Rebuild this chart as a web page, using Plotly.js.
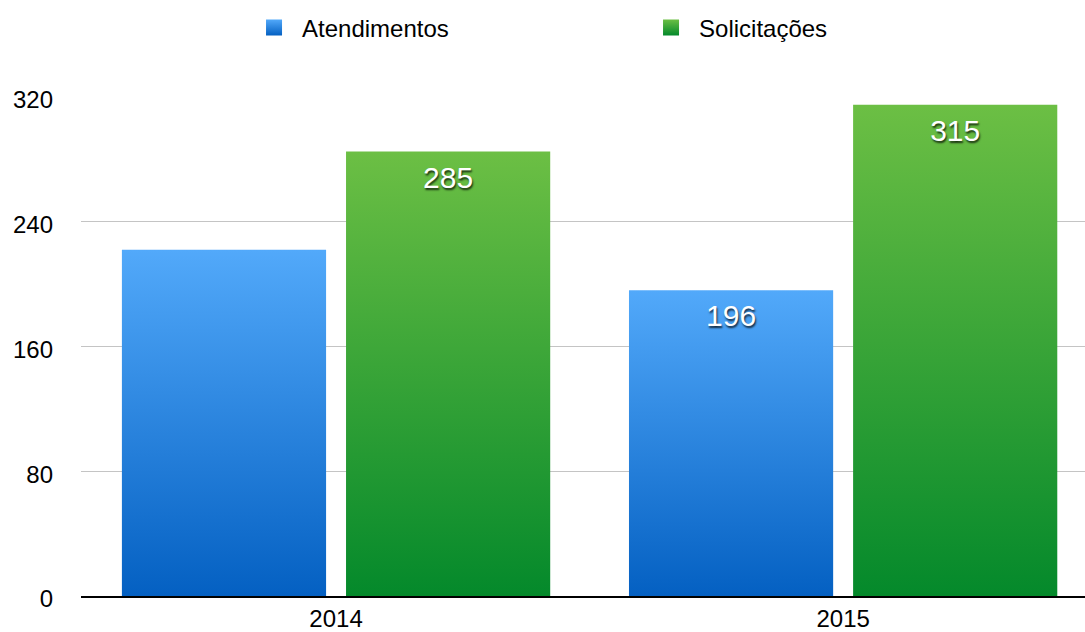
<!DOCTYPE html>
<html>
<head>
<meta charset="utf-8">
<script src="https://cdn.plot.ly/plotly-3.0.1.min.js"></script>
<style>
  html, body { margin: 0; padding: 0; background: #fff; }
  #chart { width: 1085px; height: 632px; }
</style>
</head>
<body>
<div id="chart"></div>
<script>
const years = ['2014', '2015'];
const atendimentos = [222, 196];
const solicitacoes = [285, 315];
const atendLabels = ['', '196'];
const solicLabels = ['285', '315'];
const yTicks = [0, 80, 160, 240, 320];

const FONT = 'Liberation Sans, Arial, Helvetica, sans-serif';
const labelFont = { family: FONT, size: 30, color: '#ffffff', shadow: '1px 2px 2px rgba(0,0,0,0.75)' };

const traces = [
  {
    type: 'bar', name: 'Atendimentos', x: years, y: atendimentos,
    text: atendLabels, textposition: 'inside', insidetextanchor: 'end',
    textfont: labelFont, constraintext: 'none',
    marker: { color: '#2a83de', line: { width: 0 } }, hoverinfo: 'none'
  },
  {
    type: 'bar', name: 'Solicitações', x: years, y: solicitacoes,
    text: solicLabels, textposition: 'inside', insidetextanchor: 'end',
    textfont: labelFont, constraintext: 'none',
    marker: { color: '#36a33a', line: { width: 0 } }, hoverinfo: 'none'
  }
];

const layout = {
  width: 1085, height: 632,
  margin: { l: 81, r: 0, t: 97, b: 36 },
  paper_bgcolor: '#ffffff', plot_bgcolor: '#ffffff',
  font: { family: FONT, size: 24, color: '#000000' },
  barmode: 'group', bargap: 0.116, bargroupgap: 0.089,
  showlegend: true,
  legend: {
    orientation: 'h', xref: 'container', yref: 'container',
    x: 0.2415, xanchor: 'left', y: 0.956, yanchor: 'middle',
    font: { family: FONT, size: 24, color: '#000' },
    entrywidth: 352, entrywidthmode: 'pixels',
    traceorder: 'normal'
  },
  xaxis: {
    type: 'category', range: [-0.503, 1.477],
    showline: true, linecolor: '#000000', linewidth: 2,
    showgrid: false, zeroline: false, ticks: '',
    tickfont: { family: FONT, size: 24, color: '#000' }
  },
  yaxis: {
    range: [0, 320], tickvals: yTicks, ticktext: yTicks.map(String),
    showgrid: true, gridcolor: '#c4c4c4', gridwidth: 1,
    zeroline: false, showline: false, ticks: '',
    ticklabelstandoff: 27,
    tickfont: { family: FONT, size: 24, color: '#000' }
  }
};

Plotly.newPlot('chart', traces, layout, { staticPlot: true, displayModeBar: false }).then(function (gd) {
  const svg = gd.querySelector('svg.main-svg');
  let defs = svg.querySelector('defs');
  const NS = 'http://www.w3.org/2000/svg';
  function addGrad(id, top, bottom) {
    const g = document.createElementNS(NS, 'linearGradient');
    g.setAttribute('id', id);
    g.setAttribute('x1', '0'); g.setAttribute('y1', '0');
    g.setAttribute('x2', '0'); g.setAttribute('y2', '1');
    const s1 = document.createElementNS(NS, 'stop');
    s1.setAttribute('offset', '0'); s1.setAttribute('stop-color', top);
    const s2 = document.createElementNS(NS, 'stop');
    s2.setAttribute('offset', '1'); s2.setAttribute('stop-color', bottom);
    g.appendChild(s1); g.appendChild(s2);
    defs.appendChild(g);
  }
  addGrad('gradBlue', '#52a9fa', '#0460c2');
  addGrad('gradGreen', '#6cbf44', '#04892b');
  const grads = ['url(#gradBlue)', 'url(#gradGreen)'];
  gd.querySelectorAll('.barlayer .trace').forEach(function (t, i) {
    t.querySelectorAll('.point path').forEach(function (p) {
      p.style.fill = grads[i];
    });
    t.querySelectorAll('.point text').forEach(function (tx) {
      tx.setAttribute('transform', (tx.getAttribute('transform') || '') + ' translate(0,6)');
    });
  });
  gd.querySelectorAll('.yaxislayer-above .ytick text').forEach(function (tx) {
    tx.setAttribute('transform', (tx.getAttribute('transform') || '') + ' translate(0,3)');
  });
  gd.querySelectorAll('.legend .traces').forEach(function (t, i) {
    t.querySelectorAll('.legendpoints path').forEach(function (p) {
      p.setAttribute('d', 'M0,8H-16V-8H0Z');
      p.style.fill = grads[i];
      p.style.strokeWidth = '0';
    });
  });
});
</script>
</body>
</html>
